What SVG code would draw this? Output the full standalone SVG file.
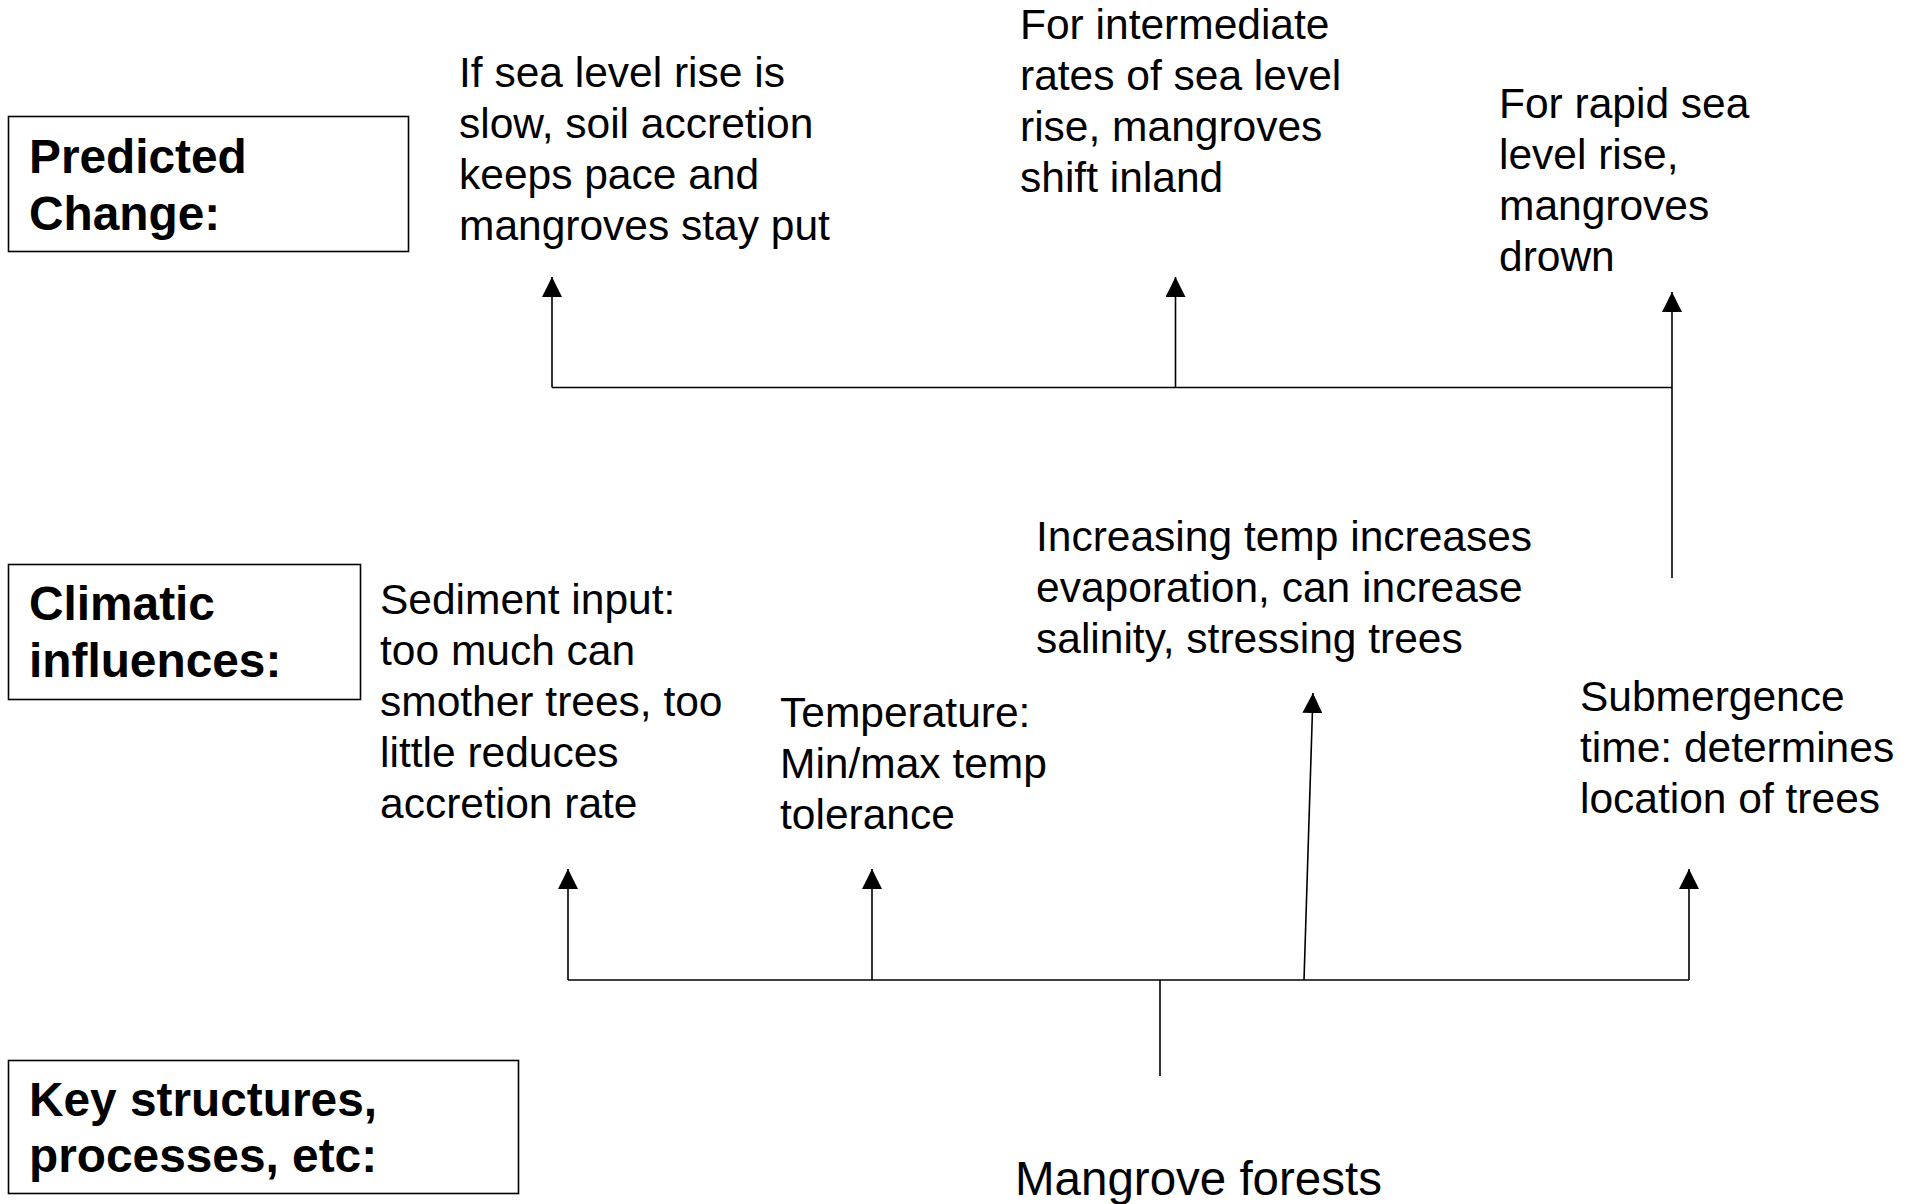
<svg xmlns="http://www.w3.org/2000/svg" width="1916" height="1204" viewBox="0 0 1916 1204">
<style>
.box{fill:#fff;stroke:#000;stroke-width:1.6}
.hd{font-family:"Liberation Sans",Arial,sans-serif;font-weight:bold;font-size:47.8px;fill:#000}
.tx{font-family:"Liberation Sans",Arial,sans-serif;font-size:42.5px;fill:#000}
.big{font-family:"Liberation Sans",Arial,sans-serif;font-size:47.5px;fill:#000}
.ln{fill:none;stroke:#000;stroke-width:1.6}
</style>
<defs>
<marker id="ah" viewBox="0 0 20 20" refX="20" refY="10" markerWidth="20" markerHeight="20" orient="auto" markerUnits="userSpaceOnUse">
<path d="M0,0 L20,10 L0,20 z" fill="#000"/>
</marker>
</defs>
<rect width="1916" height="1204" fill="#fff"/>
<g id="predicted-change">
<rect class="box" x="8.5" y="116.5" width="400" height="135"/>
<text class="hd" x="29" y="173">Predicted</text>
<text class="hd" x="29" y="230">Change:</text>
</g>
<g id="climatic-influences">
<rect class="box" x="8.5" y="564.5" width="352" height="135"/>
<text class="hd" x="29" y="620">Climatic</text>
<text class="hd" x="29" y="677">influences:</text>
</g>
<g id="key-structures">
<rect class="box" x="8.5" y="1060.5" width="510" height="133"/>
<text class="hd" x="29" y="1116">Key structures,</text>
<text class="hd" x="29" y="1172">processes, etc:</text>
</g>
<g id="slow-rise">
<text class="tx" x="459" y="87">If sea level rise is</text>
<text class="tx" x="459" y="138">slow, soil accretion</text>
<text class="tx" x="459" y="189">keeps pace and</text>
<text class="tx" x="459" y="240">mangroves stay put</text>
</g>
<g id="intermediate-rise">
<text class="tx" x="1020" y="39">For intermediate</text>
<text class="tx" x="1020" y="90">rates of sea level</text>
<text class="tx" x="1020" y="141">rise, mangroves</text>
<text class="tx" x="1020" y="192">shift inland</text>
</g>
<g id="rapid-rise">
<text class="tx" x="1499" y="118">For rapid sea</text>
<text class="tx" x="1499" y="169">level rise,</text>
<text class="tx" x="1499" y="220">mangroves</text>
<text class="tx" x="1499" y="271">drown</text>
</g>
<g id="sediment">
<text class="tx" x="380" y="614">Sediment input:</text>
<text class="tx" x="380" y="665">too much can</text>
<text class="tx" x="380" y="716">smother trees, too</text>
<text class="tx" x="380" y="767">little reduces</text>
<text class="tx" x="380" y="818">accretion rate</text>
</g>
<g id="temperature">
<text class="tx" x="780" y="727">Temperature:</text>
<text class="tx" x="780" y="778">Min/max temp</text>
<text class="tx" x="780" y="829">tolerance</text>
</g>
<g id="evaporation">
<text class="tx" x="1036" y="551">Increasing temp increases</text>
<text class="tx" x="1036" y="602">evaporation, can increase</text>
<text class="tx" x="1036" y="653">salinity, stressing trees</text>
</g>
<g id="submergence">
<text class="tx" x="1580" y="711">Submergence</text>
<text class="tx" x="1580" y="762">time: determines</text>
<text class="tx" x="1580" y="813">location of trees</text>
</g>
<g id="mangrove-forests">
<text class="big" x="1015" y="1195">Mangrove forests</text>
</g>
<g id="connectors">
<path class="ln" d="M552,387.5 H1672"/>
<path class="ln" d="M552,387.5 V277" marker-end="url(#ah)"/>
<path class="ln" d="M1175.5,387.5 V277" marker-end="url(#ah)"/>
<path class="ln" d="M1672,578 V292" marker-end="url(#ah)"/>
<path class="ln" d="M568,980 H1689"/>
<path class="ln" d="M568,980 V869" marker-end="url(#ah)"/>
<path class="ln" d="M872,980 V869" marker-end="url(#ah)"/>
<path class="ln" d="M1304,980 L1313,693" marker-end="url(#ah)"/>
<path class="ln" d="M1689,980 V869" marker-end="url(#ah)"/>
<path class="ln" d="M1160,980 V1076"/>
</g>
</svg>
